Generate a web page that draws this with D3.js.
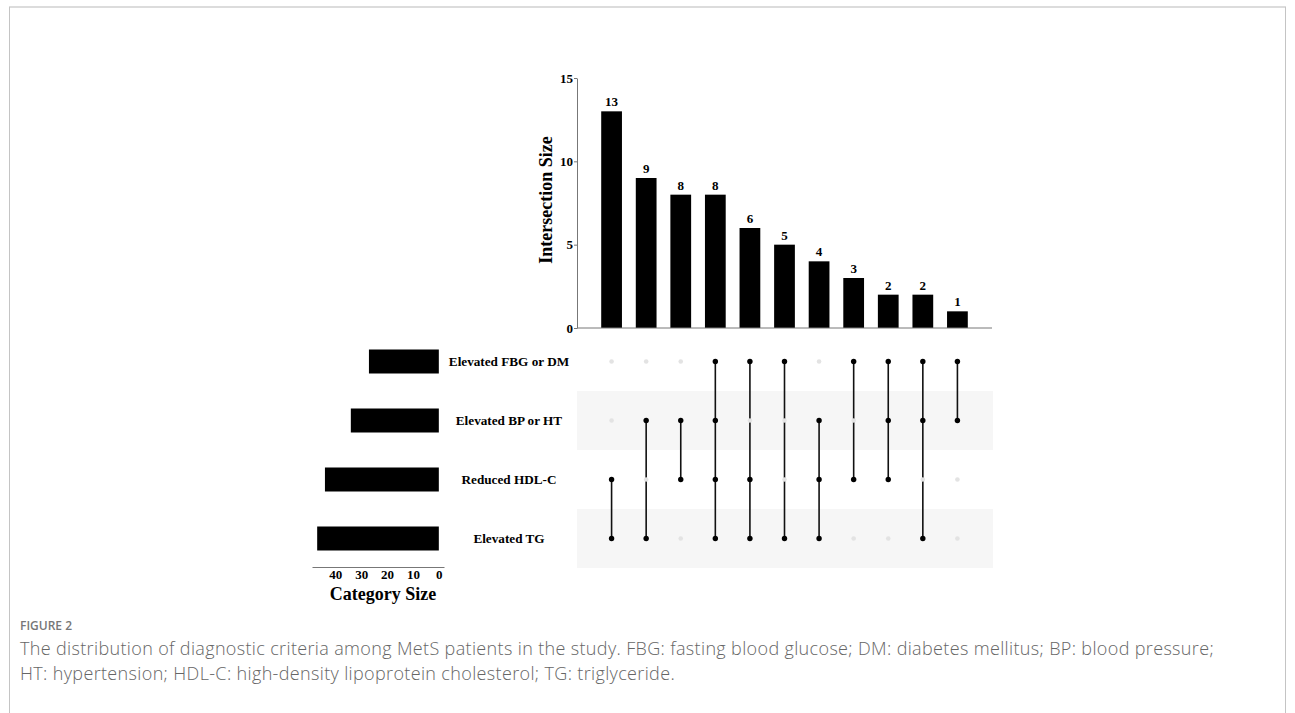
<!DOCTYPE html>
<html>
<head>
<meta charset="utf-8">
<script src="https://cdn.jsdelivr.net/npm/d3@7"></script>
<style>
  html, body { margin: 0; padding: 0; background: #fff; }
  svg { display: block; }
</style>
</head>
<body>
<svg id="chart" width="1295" height="713"></svg>
<script>
// ---------- DATA ----------
const sets = ["Elevated FBG or DM", "Elevated BP or HT", "Reduced HDL-C", "Elevated TG"];
const setSizes = [27, 34, 44, 47];
const intersectionSizes = [13, 9, 8, 8, 6, 5, 4, 3, 2, 2, 1];
const intersectionMembers = [
  ["Reduced HDL-C", "Elevated TG"],
  ["Elevated BP or HT", "Elevated TG"],
  ["Elevated BP or HT", "Reduced HDL-C"],
  ["Elevated FBG or DM", "Elevated BP or HT", "Reduced HDL-C", "Elevated TG"],
  ["Elevated FBG or DM", "Reduced HDL-C", "Elevated TG"],
  ["Elevated FBG or DM", "Elevated TG"],
  ["Elevated BP or HT", "Reduced HDL-C", "Elevated TG"],
  ["Elevated FBG or DM", "Reduced HDL-C"],
  ["Elevated FBG or DM", "Elevated BP or HT", "Reduced HDL-C"],
  ["Elevated FBG or DM", "Elevated BP or HT", "Elevated TG"],
  ["Elevated FBG or DM", "Elevated BP or HT"]
];
const yTicks = [0, 5, 10, 15];
const setTicks = [40, 30, 20, 10, 0];
const yTitle = "Intersection Size";
const xTitle = "Category Size";
const figLabel = "FIGURE 2";
const captionLines = [
  "The distribution of diagnostic criteria among MetS patients in the study. FBG: fasting blood glucose; DM: diabetes mellitus; BP: blood pressure;",
  "HT: hypertension; HDL-C: high-density lipoprotein cholesterol; TG: triglyceride."
];

// ---------- DRAW ----------
const svg = d3.select("#chart");
const serif = "'Liberation Serif', 'Times New Roman', serif";
const sans = "'Open Sans', 'Noto Sans', sans-serif";

// frame
svg.append("line").attr("x1", 9).attr("x2", 1286).attr("y1", 7).attr("y2", 7)
  .attr("stroke", "#dcdcdc").attr("stroke-width", 2);
svg.append("line").attr("x1", 9.5).attr("x2", 9.5).attr("y1", 7).attr("y2", 713)
  .attr("stroke", "#c4c4c4").attr("stroke-width", 1);
svg.append("line").attr("x1", 1285.5).attr("x2", 1285.5).attr("y1", 7).attr("y2", 713)
  .attr("stroke", "#c4c4c4").attr("stroke-width", 1);

const idx = intersectionSizes.map((d, i) => i);
const x = d3.scalePoint().domain(idx).range([577, 992]).padding(1);
const step = x.step();
const barW = step * 0.6;
const y = d3.scaleLinear().domain([0, 15]).range([328, 78]);

const rowY = d3.scaleBand().domain(sets).range([332, 568]);
const rowC = s => rowY(s) + rowY.bandwidth() / 2;

// shaded rows
svg.append("g").selectAll("rect").data(sets.filter((s, i) => i % 2 === 1)).join("rect")
  .attr("x", 577).attr("width", 993 - 577)
  .attr("y", d => rowY(d)).attr("height", rowY.bandwidth())
  .attr("fill", "#f6f6f6");

// intersection bars
svg.append("g").selectAll("rect").data(intersectionSizes).join("rect")
  .attr("x", (d, i) => x(i) - barW / 2).attr("width", barW)
  .attr("y", d => y(d)).attr("height", d => y(0) - y(d))
  .attr("fill", "#000");

svg.append("g").selectAll("text").data(intersectionSizes).join("text")
  .attr("x", (d, i) => x(i)).attr("y", d => y(d) - 5)
  .attr("text-anchor", "middle")
  .attr("font-family", serif).attr("font-weight", "bold").attr("font-size", 13)
  .text(d => d);

// y axis
const yAxis = svg.append("g").attr("transform", "translate(577,0)")
  .call(d3.axisLeft(y).tickValues(yTicks).tickSize(3).tickSizeOuter(0));
yAxis.select(".domain").attr("stroke", "#777");
yAxis.selectAll(".tick line").attr("stroke", "#777");
yAxis.selectAll(".tick text").attr("font-family", serif).attr("font-weight", "bold")
  .attr("font-size", 13).attr("fill", "#000").attr("x", -4);

// x axis baseline
svg.append("line").attr("x1", 577).attr("x2", 992).attr("y1", y(0)).attr("y2", y(0))
  .attr("stroke", "#777").attr("stroke-width", 1);

svg.append("text")
  .attr("transform", "translate(552,200) rotate(-90)")
  .attr("text-anchor", "middle")
  .attr("font-family", serif).attr("font-weight", "bold").attr("font-size", 18)
  .text(yTitle);

// matrix
const matrix = svg.append("g");
intersectionMembers.forEach((mem, i) => {
  const ys = mem.map(rowC);
  if (ys.length > 1) {
    matrix.append("line")
      .attr("x1", x(i)).attr("x2", x(i))
      .attr("y1", d3.min(ys)).attr("y2", d3.max(ys))
      .attr("stroke", "#111").attr("stroke-width", 1.6);
  }
  sets.forEach(s => {
    const on = mem.includes(s);
    matrix.append("circle")
      .attr("cx", x(i)).attr("cy", rowC(s))
      .attr("r", on ? 2.7 : 2.3)
      .attr("fill", on ? "#000" : "#e3e3e3");
  });
});

// set labels
svg.append("g").selectAll("text").data(sets).join("text")
  .attr("x", 509).attr("y", d => rowC(d))
  .attr("dy", "0.35em")
  .attr("text-anchor", "middle")
  .attr("font-family", serif).attr("font-weight", "bold").attr("font-size", 13.2)
  .text(d => d);

// set size bars
const sx = d3.scaleLinear().domain([-2, 49]).range([444, 312]);
const barH = 24;
svg.append("g").selectAll("rect").data(setSizes).join("rect")
  .attr("x", d => sx(d)).attr("width", d => sx(0) - sx(d))
  .attr("y", (d, i) => rowC(sets[i]) - barH / 2).attr("height", barH)
  .attr("fill", "#000");

const sAxis = svg.append("g").attr("transform", "translate(0,567)")
  .call(d3.axisBottom(sx).tickValues(setTicks).tickSize(0).tickSizeOuter(0));
sAxis.select(".domain").attr("stroke", "#777");
sAxis.selectAll(".tick text").attr("font-family", serif).attr("font-weight", "bold")
  .attr("font-size", 13).attr("fill", "#000").attr("y", 12).attr("dy", 0);

svg.append("text")
  .attr("x", 383).attr("y", 600)
  .attr("text-anchor", "middle")
  .attr("font-family", serif).attr("font-weight", "bold").attr("font-size", 18)
  .text(xTitle);

// caption
svg.append("text").attr("x", 20).attr("y", 630)
  .attr("font-family", sans).attr("font-weight", 600).attr("font-size", 12)
  .attr("fill", "#777").text(figLabel);
svg.append("g").selectAll("text").data(captionLines).join("text")
  .attr("x", 20).attr("y", (d, i) => 655 + i * 25)
  .attr("font-family", sans).attr("font-weight", 300).attr("font-size", 18)
  .attr("letter-spacing", 0.35)
  .attr("fill", "#666").text(d => d);
</script>
</body>
</html>
